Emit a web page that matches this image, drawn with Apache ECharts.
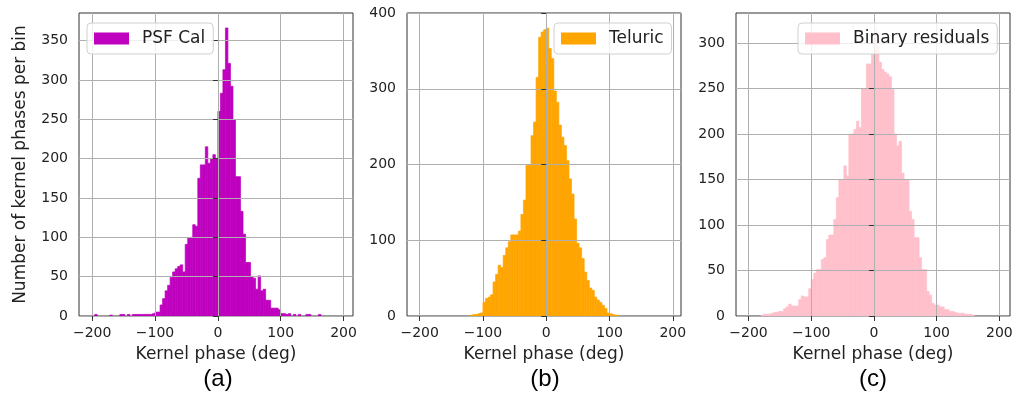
<!DOCTYPE html>
<html>
<head>
<meta charset="utf-8">
<script src="https://cdn.jsdelivr.net/npm/echarts@6/dist/echarts.min.js"></script>
<style>
  html, body { margin: 0; padding: 0; background: #fff; }
  #chart { width: 1017px; height: 412px; }
</style>
</head>
<body>
<div id="chart"></div>
<script>
// histogram bins: left edges from -200 deg, 4 deg wide, 100 bins
const BIN_START = -200;
const BIN_WIDTH = 4;

const psfCal = [
  0, 2, 0, 0, 0, 0, 0, 1, 0, 0,
  0, 2, 2, 0, 2, 0, 2, 2, 2, 2,
  2, 2, 2, 2, 3, 5, 5, 14, 22, 32,
  39, 49, 56, 60, 63, 65, 56, 91, 99, 100,
  116, 114, 175, 192, 192, 215, 194, 200, 205, 200,
  260, 283, 313, 366, 321, 292, 249, 177, 177, 133,
  104, 68, 68, 50, 48, 34, 51, 32, 34, 20,
  20, 10, 10, 10, 8, 3, 3, 2, 3, 0,
  2, 0, 2, 0, 0, 2, 2, 0, 0, 0,
  2, 0, 0, 0, 0, 0, 0, 0, 0, 0
];

const teluric = [
  0, 0, 0, 0, 0, 0, 0, 0, 0, 0,
  0, 0, 0, 0, 0, 0, 0, 0, 0, 0,
  1, 2, 2, 3, 4, 18, 23, 25, 28, 45,
  55, 67, 64, 80, 90, 98, 107, 107, 107, 112,
  134, 153, 199, 199, 238, 256, 315, 368, 375, 378,
  380, 353, 340, 297, 282, 252, 236, 225, 205, 181,
  161, 128, 96, 90, 76, 58, 47, 37, 34, 25,
  21, 18, 14, 10, 4, 3, 2, 1, 1, 0,
  0, 0, 0, 0, 0, 0, 0, 0, 0, 0,
  0, 0, 0, 0, 0, 0, 0, 0, 0, 0
];

const binaryResiduals = [
  0, 0, 0, 0, 0, 1, 2, 2, 2, 3,
  4, 4, 5, 5, 8, 10, 13, 11, 11, 11,
  18, 22, 21, 21, 30, 40, 47, 51, 51, 62,
  64, 84, 89, 89, 106, 130, 150, 150, 165, 154,
  200, 200, 205, 214, 207, 250, 250, 277, 277, 288,
  317, 296, 279, 271, 268, 266, 263, 249, 200, 187,
  192, 157, 150, 150, 115, 106, 86, 86, 64, 51,
  51, 27, 23, 14, 12, 12, 10, 10, 7, 7,
  5, 5, 4, 3, 3, 3, 2, 2, 2, 1,
  0, 0, 0, 0, 0, 0, 0, 0, 0, 0
];

const xTicks = [-200, -100, 0, 100, 200];
const yTicksA = [0, 50, 100, 150, 200, 250, 300, 350];
const yTicksB = [0, 100, 200, 300, 400];
const yTicksC = [0, 50, 100, 150, 200, 250, 300];

const panels = [
  { name: 'PSF Cal', counts: psfCal, color: '#bf00bf', xMin: -221, xMax: 215, yMax: 385, yTicks: yTicksA,
    left: 79, legendLeft: 87, tag: '(a)', tagX: 218 },
  { name: 'Teluric', counts: teluric, color: '#ffa500', xMin: -220, xMax: 213, yMax: 400, yTicks: yTicksB,
    left: 407, legendLeft: 554, tag: '(b)', tagX: 545 },
  { name: 'Binary residuals', counts: binaryResiduals, color: '#ffc0cb', xMin: -220, xMax: 217, yMax: 333, yTicks: yTicksC,
    left: 736, legendLeft: 798, tag: '(c)', tagX: 873 }
];

const FONT = 'DejaVu Sans';
const minus = v => String(v).replace('-', '\u2212');

function renderBar(params, api) {
  const h = api.value(2);
  if (!h) return null;
  const p0 = api.coord([api.value(0), h]);
  const p1 = api.coord([api.value(1), 0]);
  const color = api.visual('color');
  return {
    type: 'rect',
    shape: { x: p0[0], y: p0[1], width: p1[0] - p0[0], height: p1[1] - p0[1] },
    // thin stroke in the fill colour hides the antialiasing seams between bins
    style: { fill: color, stroke: color, lineWidth: 0.7 }
  };
}

const grid = [], xAxis = [], yAxis = [], series = [], legend = [], graphic = [];

panels.forEach((p, i) => {
  grid.push({
    left: p.left, top: 13, width: 274, height: 303,
    show: true, borderColor: '#333', borderWidth: 1, backgroundColor: 'transparent'
  });
  xAxis.push({
    type: 'value', gridIndex: i, min: p.xMin, max: p.xMax, z: 3,
    name: 'Kernel phase (deg)', nameLocation: 'middle', nameGap: 30,
    nameTextStyle: { fontFamily: FONT, fontSize: 17, color: '#222' },
    axisLine: { show: false },
    axisTick: { show: true, length: 5, customValues: xTicks, lineStyle: { color: '#333' } },
    axisLabel: { customValues: xTicks, margin: 10, fontFamily: FONT, fontSize: 14, color: '#222', formatter: minus },
    splitLine: { show: true, lineStyle: { color: '#b0b0b0', width: 1 } }
  });
  yAxis.push({
    type: 'value', gridIndex: i, min: 0, max: p.yMax, z: 3,
    name: i === 0 ? 'Number of kernel phases per bin' : '',
    nameLocation: 'middle', nameGap: 50, nameRotate: 90,
    nameTextStyle: { fontFamily: FONT, fontSize: 17, color: '#222' },
    axisLine: { show: false },
    axisTick: { show: true, length: 5, customValues: p.yTicks, lineStyle: { color: '#333' } },
    axisLabel: { customValues: p.yTicks, margin: 11, fontFamily: FONT, fontSize: 14, color: '#222' },
    splitLine: { show: true, lineStyle: { color: '#b0b0b0', width: 1 } }
  });
  series.push({
    type: 'custom', name: p.name, xAxisIndex: i, yAxisIndex: i,
    renderItem: renderBar, clip: true,
    itemStyle: { color: p.color },
    encode: { x: [0, 1], y: 2 },
    data: p.counts.map((c, k) => [BIN_START + k * BIN_WIDTH, BIN_START + (k + 1) * BIN_WIDTH, c])
  });
  legend.push({
    data: [{ name: p.name, icon: 'rect' }],
    left: p.legendLeft, top: 23, orient: 'vertical',
    selectedMode: false,
    itemWidth: 35, itemHeight: 12,
    padding: [7, 8, 7, 7],
    backgroundColor: 'rgba(255,255,255,0.8)',
    borderColor: '#d0d0d0', borderWidth: 1, borderRadius: 4,
    textStyle: { fontFamily: FONT, fontSize: 17, color: '#222', padding: [0, 0, 0, 8] },
    z: 10
  });
  graphic.push({
    type: 'text', x: p.tagX, y: 379,
    style: { text: p.tag, fontFamily: 'Liberation Sans', fontSize: 24, fill: '#000',
      textAlign: 'center', textVerticalAlign: 'middle' }
  });
});

const chart = echarts.init(document.getElementById('chart'));
chart.setOption({
  animation: false,
  backgroundColor: '#fff',
  grid, xAxis, yAxis, series, legend, graphic
});
</script>
</body>
</html>
